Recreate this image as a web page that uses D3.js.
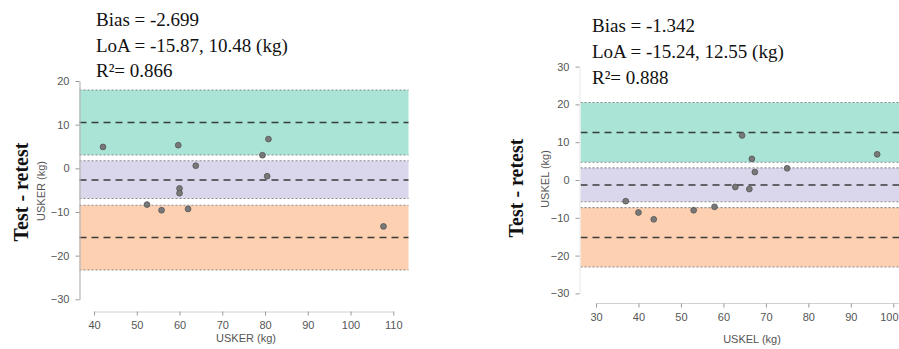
<!DOCTYPE html>
<html>
<head>
<meta charset="utf-8">
<script src="https://cdn.jsdelivr.net/npm/d3@7"></script>
<style>
  html, body { margin: 0; padding: 0; background: #fff; }
  svg { display: block; }
</style>
</head>
<body>
<svg id="chart" width="899" height="349"></svg>
<script>
// Bland–Altman test–retest data, two strength measures
const uskerMean = [42.1, 59.7, 80.8, 79.4, 63.8, 80.5, 60.0, 60.0, 52.4, 55.8, 62.0, 107.7];
const uskerDiff = [4.9, 5.3, 6.7, 3.0, 0.6, -1.8, -4.6, -5.7, -8.3, -9.6, -9.3, -13.3];
const uskelMean = [64.4, 96.2, 66.7, 67.4, 75.0, 62.8, 66.1, 37.0, 40.0, 43.6, 53.0, 57.9];
const uskelDiff = [11.8, 6.8, 5.6, 2.1, 3.1, -1.85, -2.4, -5.6, -8.6, -10.4, -8.0, -7.1];

// bias, lower LoA, upper LoA
const uskerLines = [-2.699, -15.87, 10.48];
const uskelLines = [-1.342, -15.24, 12.55];
// confidence bands [low, high] for: upper LoA, bias, lower LoA
const uskerBands = [[3.05, 17.95], [-6.9, 1.75], [-23.3, -8.45]];
const uskelBands = [[4.7, 20.5], [-5.75, 3.2], [-23.0, -7.3]];
const uskerR2 = "0.866";
const uskelR2 = "0.888";

const uskerXTicks = [40, 50, 60, 70, 80, 90, 100, 110];
const uskelXTicks = [30, 40, 50, 60, 70, 80, 90, 100];
const uskerYTicks = [-30, -20, -10, 0, 10, 20];
const uskelYTicks = [-30, -20, -10, 0, 10, 20, 30];

const bandColors = ["#a9e4d6", "#dad6eb", "#fdd0b2"];

const svg = d3.select("#chart");
const W = +svg.attr("width");

function panel(o) {
  const g = svg.append("g");
  const x = d3.scaleLinear().domain(o.xDomain).range(o.xRange);
  const y = d3.scaleLinear().domain(o.yDomain).range(o.yRange);

  // confidence bands with dotted edges
  o.bands.forEach((b, i) => {
    g.append("rect")
      .attr("x", o.plotLeft).attr("width", o.plotRight - o.plotLeft)
      .attr("y", y(b[1])).attr("height", y(b[0]) - y(b[1]))
      .attr("fill", bandColors[i]);
    b.forEach(v => {
      g.append("line")
        .attr("x1", o.plotLeft).attr("x2", o.plotRight)
        .attr("y1", y(v)).attr("y2", y(v))
        .attr("stroke", "#8a8a8a").attr("stroke-width", 1.1)
        .attr("stroke-dasharray", "2,2");
    });
  });

  // bias and limits of agreement
  o.lines.forEach(v => {
    g.append("line")
      .attr("x1", o.plotLeft).attr("x2", o.plotRight)
      .attr("y1", y(v)).attr("y2", y(v))
      .attr("stroke", "#2b2b2b").attr("stroke-width", 1.5)
      .attr("stroke-dasharray", "7,5").attr("opacity", 0.9);
  });

  // y axis
  const yAxis = g.append("g")
    .attr("transform", `translate(${o.yAxisX},0)`)
    .call(d3.axisLeft(y).tickValues(o.yTicks).tickSize(4).tickPadding(6).tickSizeOuter(0));
  yAxis.select(".domain").attr("stroke", o.yAxisColor).attr("stroke-width", 1.2);
  yAxis.selectAll(".tick line").attr("stroke", "#999");
  yAxis.selectAll(".tick text")
    .attr("font-family", "Liberation Sans, Arial, sans-serif")
    .attr("font-size", 11).attr("fill", "#555");

  // x axis
  const xAxis = g.append("g")
    .attr("transform", `translate(0,${o.xAxisY})`)
    .call(d3.axisBottom(x).tickValues(o.xTicks).tickSize(4).tickPadding(6).tickSizeOuter(0));
  xAxis.select(".domain").attr("stroke", "#d0d0d0").attr("stroke-width", 1);
  xAxis.selectAll(".tick line").attr("stroke", "#999");
  xAxis.selectAll(".tick text")
    .attr("font-family", "Liberation Sans, Arial, sans-serif")
    .attr("font-size", 11).attr("fill", "#555");
  // keep a tick label that would run past the right edge inside the frame
  xAxis.selectAll(".tick").each(function(d) {
    const t = d3.select(this).select("text");
    const px = x(d);
    const half = this.querySelector("text").getComputedTextLength() / 2;
    if (px + half > W - 1) t.attr("text-anchor", "end").attr("x", (W - 1) - px);
  });
  if (o.xDomainLine) {
    xAxis.select(".domain").attr("d", `M${o.xDomainLine[0]},0H${o.xDomainLine[1]}`);
  }

  // points
  g.selectAll("circle.pt")
    .data(o.mean.map((m, i) => [m, o.diff[i]]))
    .join("circle")
    .attr("class", "pt")
    .attr("cx", d => x(d[0])).attr("cy", d => y(d[1]))
    .attr("r", 2.9)
    .attr("fill", "#787878").attr("stroke", "#555").attr("stroke-width", 0.8);

  // axis titles
  g.append("text")
    .attr("x", o.xTitlePos[0]).attr("y", o.xTitlePos[1])
    .attr("text-anchor", "middle").attr("dominant-baseline", "middle")
    .attr("font-family", "Liberation Sans, Arial, sans-serif")
    .attr("font-size", 11).attr("fill", "#555")
    .text(o.xTitle);
  g.append("text")
    .attr("transform", `translate(${o.yTitlePos[0]},${o.yTitlePos[1]}) rotate(-90)`)
    .attr("text-anchor", "middle").attr("dominant-baseline", "middle")
    .attr("font-family", "Liberation Sans, Arial, sans-serif")
    .attr("font-size", 11).attr("fill", "#555")
    .text(o.xTitle);
  g.append("text")
    .attr("transform", `translate(${o.bigTitlePos[0]},${o.bigTitlePos[1]}) rotate(-90)`)
    .attr("text-anchor", "middle").attr("dominant-baseline", "middle")
    .attr("font-family", "Liberation Serif, Times New Roman, serif")
    .attr("font-size", 20).attr("font-weight", "bold").attr("fill", "#111")
    .text("Test - retest");

  // summary statistics
  const stats = [
    `Bias = ${o.lines[0]}`,
    `LoA = ${o.lines[1]}, ${o.lines[2]} (kg)`,
    `R\u00B2= ${o.r2}`
  ];
  stats.forEach((s, i) => {
    g.append("text")
      .attr("x", o.statsPos[0]).attr("y", o.statsPos[1] + i * 25.6)
      .attr("font-family", "Liberation Serif, Times New Roman, serif")
      .attr("font-size", 19).attr("fill", "#111")
      .text(s);
  });
}

panel({
  mean: uskerMean, diff: uskerDiff, lines: uskerLines, bands: uskerBands, r2: uskerR2,
  xDomain: [40, 110], xRange: [94, 393.3],
  yDomain: [-30, 20], yRange: [299.3, 81],
  xTicks: uskerXTicks, yTicks: uskerYTicks,
  plotLeft: 79.5, plotRight: 408.5,
  yAxisX: 79.5, yAxisColor: "#b5b5b5", xAxisY: 311.5,
  xTitle: "USKER (kg)", xTitlePos: [246, 339],
  yTitlePos: [42, 191], bigTitlePos: [23, 192],
  statsPos: [96, 26]
});

panel({
  mean: uskelMean, diff: uskelDiff, lines: uskelLines, bands: uskelBands, r2: uskelR2,
  xDomain: [30, 100], xRange: [596, 893.3],
  yDomain: [-30, 30], yRange: [293.4, 66.6],
  xTicks: uskelXTicks, yTicks: uskelYTicks,
  plotLeft: 580.5, plotRight: 899,
  yAxisX: 579.5, yAxisColor: "#ececec", xAxisY: 303.5,
  xDomainLine: [596, 899],
  xTitle: "USKEL (kg)", xTitlePos: [752, 340],
  yTitlePos: [546, 179], bigTitlePos: [518, 188],
  statsPos: [592, 32.3]
});
</script>
</body>
</html>
